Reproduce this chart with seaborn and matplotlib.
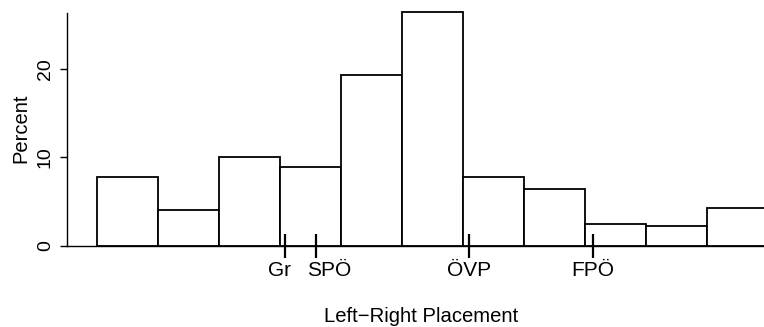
import numpy as np
import matplotlib
matplotlib.use("Agg")
import matplotlib.pyplot as plt
import seaborn as sns

# left-right self placement, 0..10, percent of respondents
placement = [0, 1, 2, 3, 4, 5, 6, 7, 8, 9, 10]
percent = [7.8, 4.1, 10.0, 8.9, 19.3, 26.4, 7.8, 6.45, 2.5, 2.3, 4.25]

# mean party placements
parties = ["Gr", "SPÖ", "ÖVP", "FPÖ"]
party_pos = [2.58, 3.09, 5.6, 7.62]
# label nudges (points) so Gr / SPÖ don't collide
label_shift = [-4.5, 9.5, 0, 0]

sns.set_theme(style="white")
plt.rcParams["font.family"] = ["Liberation Sans", "DejaVu Sans"]
plt.rcParams["text.color"] = "black"
plt.rcParams["axes.labelcolor"] = "black"
plt.rcParams["xtick.color"] = "black"
plt.rcParams["ytick.color"] = "black"

fs = 14

fig = plt.figure(figsize=(7.64, 3.27), dpi=100)
ax = fig.add_axes([0.0877, 0.2477, 0.9123, 0.7123])

sns.histplot(x=placement, weights=percent, discrete=True, shrink=1,
             color="white", edgecolor="black", linewidth=1.3, alpha=1,
             ax=ax, clip_on=False)
ax.set_axisbelow(False)

ax.set_xlim(-1.0, 10.43)
ax.set_ylim(0, 26.3)

# party markers on the x axis
ax.set_xticks(party_pos)
ax.set_xticklabels([])
ax.tick_params(axis="x", direction="inout", length=17, width=1.6, bottom=True)
for name, pos, dx in zip(parties, party_pos, label_shift):
    ax.annotate(name, xy=(pos, 0), xycoords=("data", "axes fraction"),
                xytext=(dx, -10.5), textcoords="offset points",
                ha="center", va="top", fontsize=15)

ax.set_yticks([0, 10, 20])
ax.set_yticklabels(["0", "10", "20"], rotation=90, va="center", fontsize=fs)
ax.tick_params(axis="y", length=5, width=1, pad=4.5, left=True)

for s in ["top", "right"]:
    ax.spines[s].set_visible(False)
ax.spines["left"].set_bounds(0, 26.3)
ax.spines["left"].set_color("black")
ax.spines["bottom"].set_color("black")
ax.spines["left"].set_linewidth(1)
ax.spines["bottom"].set_linewidth(1)

ax.set_ylabel("Percent", fontsize=fs + 0.5)
ax.yaxis.set_label_coords(-0.052, 0.504)
ax.set_xlabel("Left\u2212Right Placement", fontsize=14.6)
ax.xaxis.set_label_coords(0.508, -0.262)

fig.savefig("out.png", dpi=100)
